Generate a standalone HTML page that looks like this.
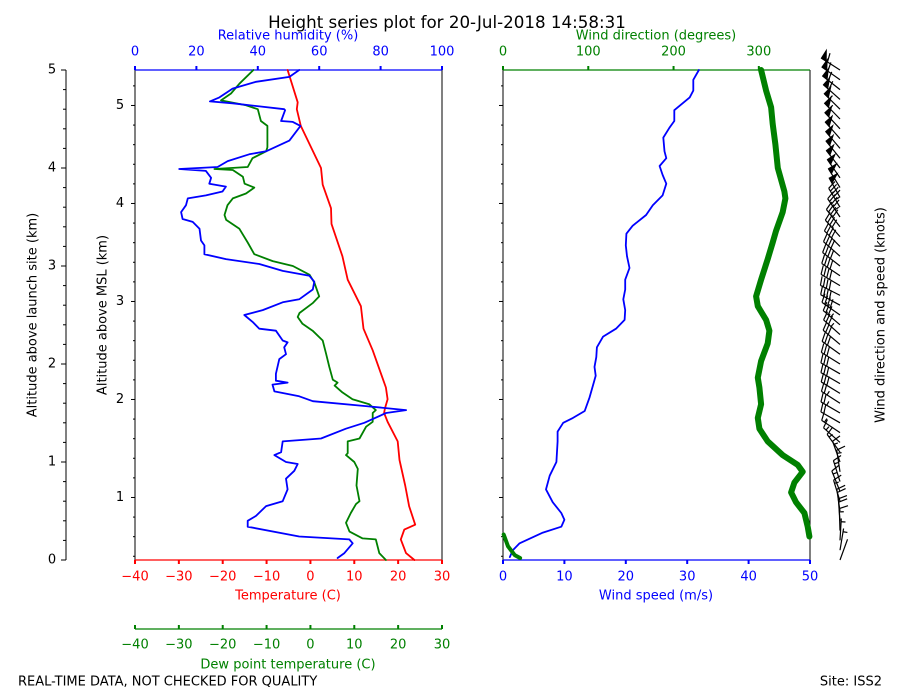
<!DOCTYPE html>
<html><head><meta charset="utf-8"><style>
html,body{margin:0;padding:0;background:#fff;}
svg{display:block;font-family:"DejaVu Sans","Liberation Sans",sans-serif;}
</style></head><body>
<svg id="chart" width="900" height="700" viewBox="0 0 900 700"></svg>
<script>
// ---- data (altitude above launch site, km) ----
const tempAlt=[5.0,4.67,4.6,4.43,4.0,3.83,3.59,3.43,3.1,2.86,2.59,2.36,2.14,1.76,1.64,1.55,1.5,1.41,1.21,1.02,0.76,0.55,0.36,0.31,0.21,0.07,0];
const tempVal=[-5.2,-2.9,-3.1,-2.2,2.4,2.8,4.7,4.8,7.3,8.5,11.5,12.1,14.2,17.2,17.6,17.0,16.8,17.6,19.9,20.3,21.6,22.5,23.9,21.4,20.6,21.8,23.7];
const dewAlt=[5.0,4.86,4.76,4.69,4.64,4.6,4.48,4.43,4.21,4.17,4.1,4.01,3.99,3.98,3.91,3.84,3.8,3.74,3.69,3.62,3.52,3.47,3.38,3.24,3.12,3.05,3.0,2.91,2.83,2.69,2.62,2.52,2.48,2.41,2.34,2.24,2.1,1.97,1.84,1.81,1.78,1.71,1.64,1.59,1.53,1.5,1.41,1.36,1.24,1.21,1.09,1.07,1.0,0.93,0.76,0.6,0.57,0.48,0.38,0.29,0.22,0.21,0.07,0];
const dewVal=[-13.0,-16.2,-18.1,-20.4,-14.7,-12.0,-11.3,-9.8,-9.8,-10.1,-13.2,-14.3,-21.9,-17.7,-15.4,-15.0,-12.8,-14.7,-17.7,-18.9,-19.6,-19.2,-16.2,-14.3,-12.8,-8.6,-4.0,-0.2,0.9,2.0,0.5,-2.5,-2.9,-1.8,0.5,2.8,3.6,4.3,5.1,6.2,5.5,7.3,9.6,13.4,14.9,14.2,14.2,12.7,11.2,8.5,8.5,8.1,10.0,10.8,10.5,11.2,10.4,9.2,8.1,8.9,11.9,14.9,15.7,17.2];
const rhAlt=[5.0,4.93,4.88,4.81,4.72,4.68,4.66,4.6,4.59,4.48,4.47,4.43,4.28,4.17,4.14,4.07,4.01,3.99,3.97,3.9,3.84,3.81,3.76,3.72,3.69,3.62,3.55,3.48,3.45,3.38,3.26,3.21,3.12,3.07,3.02,2.95,2.9,2.84,2.76,2.66,2.63,2.55,2.5,2.43,2.36,2.34,2.24,2.22,2.17,2.1,2.05,1.9,1.83,1.81,1.79,1.72,1.67,1.62,1.57,1.53,1.5,1.4,1.34,1.24,1.21,1.1,1.07,1.0,0.98,0.91,0.83,0.72,0.6,0.55,0.45,0.4,0.34,0.24,0.21,0.17,0.07,0.02];
const rhVal=[53.5,50.3,39.4,31.8,27.5,24.4,31.8,48.6,48.9,47.6,51.4,53.9,50.3,42.7,37.2,30.2,26.9,14.4,23.1,24.8,24.2,29.6,28.5,23.1,17.2,16.6,15.0,15.5,18.8,21.0,21.5,22.6,22.6,29.6,40.5,48.1,56.8,58.4,57.9,53.5,48.1,41.6,35.6,38.3,40.5,45.9,48.1,49.7,48.6,49.2,47.0,45.9,45.9,49.7,44.8,45.4,53.5,57.9,75.2,88.3,81.8,74.7,68.7,60.6,48.1,47.6,45.4,49.2,53.0,51.9,49.2,49.7,48.1,42.7,39.4,36.7,36.7,53.5,69.8,70.9,68.2,66.0];
const spdAlt=[5.0,4.9,4.79,4.72,4.59,4.48,4.41,4.31,4.17,4.1,4.02,3.93,3.84,3.72,3.62,3.52,3.41,3.33,3.21,3.1,2.98,2.86,2.76,2.66,2.55,2.45,2.36,2.28,2.17,2.07,1.97,1.88,1.66,1.52,1.45,1.4,1.31,1.21,1.0,0.86,0.72,0.59,0.48,0.41,0.34,0.28,0.17,0.1,0.03];
const spdVal=[31.9,31.0,31.0,30.4,27.9,27.9,27.1,26.1,26.3,26.6,25.5,26.0,26.6,26.0,24.4,23.3,21.1,20.1,20.0,20.2,20.6,19.9,19.9,19.6,19.9,19.8,18.4,16.3,15.3,15.2,14.9,15.1,14.1,13.3,11.4,9.8,8.9,8.9,8.7,7.6,7.0,8.1,9.5,10.0,9.5,6.5,2.7,1.6,1.1];
const dirAlt=[5.0,4.79,4.62,4.45,4.24,4.0,3.76,3.69,3.55,3.36,3.24,3.07,2.86,2.69,2.59,2.45,2.34,2.21,2.03,1.86,1.76,1.59,1.45,1.34,1.21,1.07,0.97,0.9,0.79,0.69,0.59,0.48,0.34,0.24];
const dirVal=[302.6,308.5,314.4,316.3,319.4,322.2,330.0,331.1,328.0,320.2,316.3,310.4,302.6,296.8,298.8,308.5,312.4,310.4,302.6,298.8,300.7,302.6,298.8,300.7,310.4,328.0,345.6,351.4,341.7,337.8,343.6,353.4,357.3,359.3];
const dirLowAlt=[0.26,0.14,0.05,0.02];
const dirLowVal=[0.8,5.9,13.7,20];
const outerTicks=[0,1,2,3,4,5];
const mslTicks=[1,2,3,4,5];
const mslOffset=0.362;
const tempTicks=[-40,-30,-20,-10,0,10,20,30];
const rhTicks=[0,20,40,60,80,100];
const spdTicks=[0,10,20,30,40,50];
const dirTicks=[0,100,200,300];

const NS='http://www.w3.org/2000/svg';
const svg=document.getElementById('chart');
function el(tag,attrs,parent){
  const e=document.createElementNS(NS,tag);
  for(const k in attrs) e.setAttribute(k,attrs[k]);
  (parent||svg).appendChild(e);
  return e;
}
function txt(s,x,y,opt){
  const t=el('text',{x:x,y:y,'font-size':opt.size||13,fill:opt.fill||'#000','text-anchor':opt.anchor||'middle','dominant-baseline':'central'});
  if(opt.rot) t.setAttribute('transform','rotate(-90 '+x+' '+y+')');
  t.textContent=s;
  
  
  return t;
}
const Y0=560,Y1=70;
const yA=a=>Y0-(a/5)*(Y0-Y1);
const L0=135,L1=442,R0=503,R1=810;
const xT=v=>L0+(v+40)/70*(L1-L0);
const xRH=v=>L0+v/100*(L1-L0);
const xS=v=>R0+v/50*(R1-R0);
const xD=v=>R0+v/360*(R1-R0);

txt('Height series plot for 20-Jul-2018 14:58:31',447,22,{size:16.7,name:'chart-title'});

const outer=el('g',{});


el('line',{x1:66,y1:Y1,x2:66,y2:Y0,stroke:'#000','stroke-width':1},outer);
for(let i=0;i<=25;i++){const y=yA(i*0.2);el('line',{x1:66,x2:i%5==0?61:63,y1:y,y2:y,stroke:'#000'},outer);}
outerTicks.forEach(v=>txt(String(v),52,yA(v),{name:'launch-alt-tick-label'}));
txt('Altitude above launch site (km)',33,315,{rot:true,name:'launch-alt-axis-title'});

function frame(x0,x1,topC,botC,name){
  const g=el('g',{});
  
  
  el('line',{x1:x0,y1:Y1,x2:x0,y2:Y0,stroke:'#000'},g);
  el('line',{x1:x1,y1:Y1,x2:x1,y2:Y0,stroke:'#000'},g);
  el('line',{x1:x0,y1:Y1,x2:x1,y2:Y1,stroke:topC,'stroke-width':1.3},g);
  el('line',{x1:x0,y1:Y0,x2:x1,y2:Y0,stroke:botC,'stroke-width':1.3},g);
  for(let k=-10;k<=30;k++){const a=1-mslOffset+0.2*k;if(a<0||a>5.001)continue;
    const y=yA(a);const major=(k%5===0);
    el('line',{x1:x0,x2:x0-(major?4:2),y1:y,y2:y,stroke:'#000'},g);}
  return g;
}
frame(L0,L1,'#0000ff','#ff0000','thermo-panel');
frame(R0,R1,'#008000','#0000ff','wind-panel');
mslTicks.forEach(v=>txt(String(v),120,yA(v-mslOffset),{name:'msl-tick-label'}));
txt('Altitude above MSL (km)',103,315,{rot:true,name:'msl-axis-title'});

function hAxis(vals,fx,y,dir,color,labelY,name){
  vals.forEach(v=>{const x=fx(v);el('line',{x1:x,x2:x,y1:y,y2:y+dir*4,stroke:color,'stroke-width':2});
    txt(String(v).replace('-','\u2212'),x,labelY,{fill:color,name:name});});
}
hAxis(tempTicks,xT,Y0,1,'#ff0000',577,'temperature-tick-label');
txt('Temperature (C)',288,596,{fill:'#ff0000',name:'temperature-axis-title'});
const dl=el('line',{x1:L0,x2:L1,y1:629,y2:629,stroke:'#008000','stroke-width':1.3});


hAxis(tempTicks,xT,629,-1,'#008000',645,'dewpoint-tick-label');
txt('Dew point temperature (C)',288,665,{fill:'#008000',name:'dewpoint-axis-title'});
hAxis(rhTicks,xRH,Y1,-1,'#0000ff',52,'rh-tick-label');
txt('Relative humidity (%)',288,36,{fill:'#0000ff',name:'rh-axis-title'});
hAxis(spdTicks,xS,Y0,1,'#0000ff',577,'wind-speed-tick-label');
txt('Wind speed (m/s)',656,596,{fill:'#0000ff',name:'wind-speed-axis-title'});
hAxis(dirTicks,xD,Y1,-1,'#008000',52,'wind-dir-tick-label');
txt('Wind direction (degrees)',656,36,{fill:'#008000',name:'wind-dir-axis-title'});
txt('Wind direction and speed (knots)',881,315,{rot:true,name:'barb-axis-title'});
txt('REAL-TIME DATA, NOT CHECKED FOR QUALITY',18,682,{anchor:'start',name:'quality-note'});
txt('Site: ISS2',882,682,{anchor:'end',name:'site-label'});

function series(alts,vals,fx,color,w,name){
  const d=alts.map((a,i)=>(i?'L':'M')+fx(vals[i]).toFixed(1)+','+yA(a).toFixed(1)).join(' ');
  const p=el('path',{d:d,fill:'none',stroke:color,'stroke-width':w,'stroke-linejoin':'round','stroke-linecap':'round'});
  
  
}
series(tempAlt,tempVal,xT,'#ff0000',1.8,'temperature-line');
series(dewAlt,dewVal,xT,'#008000',1.8,'dewpoint-line');
series(rhAlt,rhVal,xRH,'#0000ff',1.8,'rh-line');
series(spdAlt,spdVal,xS,'#0000ff',1.8,'wind-speed-line');
series(dirAlt,dirVal,xD,'#008000',6,'wind-dir-line');
series(dirLowAlt,dirLowVal,xD,'#008000',4,'wind-dir-low-line');

function interp(al,vl,a){
  for(let i=0;i<al.length-1;i++){const a0=al[i],a1=al[i+1];
    if((a<=a0&&a>=a1)||(a>=a0&&a<=a1)){const t=(a-a0)/((a1-a0)||1);return vl[i]+t*(vl[i+1]-vl[i]);}}
  return Math.abs(a-al[0])<Math.abs(a-al[al.length-1])?vl[0]:vl[vl.length-1];
}
const bg=el('g',{stroke:'#000','stroke-width':1.2,fill:'#000'});


const L=22;
for(let k=0;k<=50;k++){
  const a=k*0.1;
  const d=a<0.25?interp(dirLowAlt,dirLowVal,a):interp(dirAlt,dirVal,a);
  const kt=interp(spdAlt,spdVal,a)*1.944;
  const bx=840,by=yA(a);
  const r=d*Math.PI/180;
  const ux=Math.sin(r),uy=-Math.cos(r);
  const px=-uy,py=ux;
  const tx=bx+ux*L,ty=by+uy*L;
  const g=el('g',{},bg);
  
  
  el('line',{x1:bx,y1:by,x2:tx,y2:ty},g);
  let s=Math.round(kt/5)*5,pos=0;
  const H=0.4*L,sp=0.15*L,fw=0.25*L;
  while(s>=50){
    const x0=tx-ux*pos,y0=ty-uy*pos,x2=tx-ux*(pos+fw),y2=ty-uy*(pos+fw);
    el('polygon',{points:x0+','+y0+' '+(x0+px*H)+','+(y0+py*H)+' '+x2+','+y2},g);
    pos+=fw+sp*0.5;s-=50;}
  while(s>=10){const x0=tx-ux*pos,y0=ty-uy*pos;
    el('line',{x1:x0,y1:y0,x2:x0+px*H+ux*H*0.3,y2:y0+py*H+uy*H*0.3},g);pos+=sp;s-=10;}
  if(s>=5){if(pos==0)pos=sp;const x0=tx-ux*pos,y0=ty-uy*pos;
    el('line',{x1:x0,y1:y0,x2:x0+px*H/2,y2:y0+py*H/2},g);}
}
</script>
</body></html>
